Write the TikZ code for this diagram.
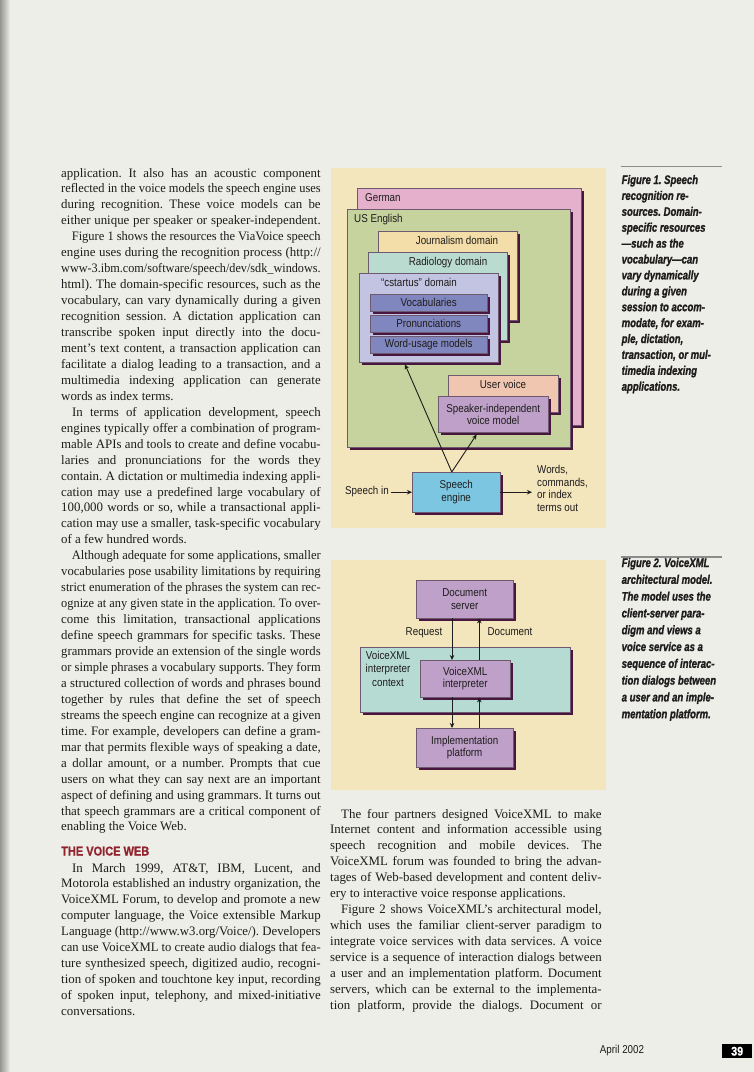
\documentclass[tikz,border=0pt]{standalone}
\usepackage{fontspec}
\usepackage{graphicx}
\setmainfont{Liberation Serif}
\newfontfamily\figfont[FakeStretch=0.86]{Liberation Sans}
\newfontfamily\capfont[FakeStretch=0.77,FakeBold=1.2]{Liberation Sans}
\newfontfamily\headfont[FakeStretch=0.86,FakeBold=0.8]{Liberation Sans}
\usetikzlibrary{arrows.meta,shadows,calc}
\frenchspacing

\definecolor{pagec}{RGB}{237,238,231}
\definecolor{edgec}{RGB}{150,150,145}
\definecolor{panelc}{RGB}{243,229,188}
\definecolor{germanc}{RGB}{228,176,204}
\definecolor{usc}{RGB}{198,211,158}
\definecolor{journc}{RGB}{243,221,168}
\definecolor{radioc}{RGB}{186,220,208}
\definecolor{cstc}{RGB}{194,196,226}
\definecolor{vocabc}{RGB}{128,134,190}
\definecolor{userc}{RGB}{241,198,176}
\definecolor{mauvec}{RGB}{190,160,200}
\definecolor{enginec}{RGB}{124,198,226}
\definecolor{ctxc}{RGB}{182,219,211}
\definecolor{shadowc}{RGB}{72,22,62}
\definecolor{textc}{RGB}{30,28,28}
\definecolor{linec}{RGB}{110,90,110}
\definecolor{headc}{RGB}{145,35,45}
\definecolor{rulec}{RGB}{140,140,140}

% justified and ragged text lines for the body columns
\newlength\colw
\newcommand\justln[1]{\setbox0=\hbox{#1}\ifdim\wd0>\colw
  \hbox{\resizebox{\colw}{\height}{\copy0}}\else\hbox to\colw{\unhbox0}\fi}
\newcommand\lastln[1]{\hbox{#1}}
\newcommand\pindent{\kern11pt}
\newcommand\bodyfont{\fontsize{12.9}{15.95}\selectfont}
\newcommand\figsize{\fontsize{11.4}{12.5}\selectfont}

\tikzset{
  fbox/.style={draw=linec, line width=0.4pt, inner sep=0pt, anchor=north west,
    text=textc, align=center, font=\figfont\figsize,
    drop shadow={shadow xshift=3pt, shadow yshift=-3pt, fill=shadowc, opacity=1}},
  lbl/.style={inner sep=0pt, text=textc, font=\figfont\figsize},
  arr/.style={draw=textc, line width=0.9pt, -{Stealth[length=5pt,width=4.5pt]}},
  body/.style={anchor=base west, inner sep=0pt, text=textc},
  capt/.style={anchor=base west, inner sep=0pt, text=textc}
}

\begin{document}
\begin{tikzpicture}[x=1pt,y=-1pt]
\useasboundingbox (0,0) rectangle (754,1072);
% page
\fill[pagec] (0,0) rectangle (754,1072);
\shade[left color=edgec, right color=pagec] (0,0) rectangle (10,1072);

% ---------- left column ----------
\node[body] (colA) at (61,177) {\bodyfont\setlength\colw{259.5pt}\vtop{\lineskiplimit=-100pt
\justln{application. It also has an acoustic component}
\justln{reflected in the voice models the speech engine uses}
\justln{during recognition. These voice models can be}
\justln{either unique per speaker or speaker-independent.}
\justln{\pindent Figure 1 shows the resources the ViaVoice speech}
\justln{engine uses during the recognition process (http://}
\justln{www-3.ibm.com/software/speech/dev/sdk\_windows.}
\justln{html). The domain-specific resources, such as the}
\justln{vocabulary, can vary dynamically during a given}
\justln{recognition session. A dictation application can}
\justln{transcribe spoken input directly into the docu-}
\justln{ment's text content, a transaction application can}
\justln{facilitate a dialog leading to a transaction, and a}
\justln{multimedia indexing application can generate}
\lastln{words as index terms.}
\justln{\pindent In terms of application development, speech}
\justln{engines typically offer a combination of program-}
\justln{mable APIs and tools to create and define vocabu-}
\justln{laries and pronunciations for the words they}
\justln{contain. A dictation or multimedia indexing appli-}
\justln{cation may use a predefined large vocabulary of}
\justln{100,000 words or so, while a transactional appli-}
\justln{cation may use a smaller, task-specific vocabulary}
\lastln{of a few hundred words.}
\justln{\pindent Although adequate for some applications, smaller}
\justln{vocabularies pose usability limitations by requiring}
\justln{strict enumeration of the phrases the system can rec-}
\justln{ognize at any given state in the application. To over-}
\justln{come this limitation, transactional applications}
\justln{define speech grammars for specific tasks. These}
\justln{grammars provide an extension of the single words}
\justln{or simple phrases a vocabulary supports. They form}
\justln{a structured collection of words and phrases bound}
\justln{together by rules that define the set of speech}
\justln{streams the speech engine can recognize at a given}
\justln{time. For example, developers can define a gram-}
\justln{mar that permits flexible ways of speaking a date,}
\justln{a dollar amount, or a number. Prompts that cue}
\justln{users on what they can say next are an important}
\justln{aspect of defining and using grammars. It turns out}
\justln{that speech grammars are a critical component of}
\lastln{enabling the Voice Web.}
}};

\node[body, text=headc, font=\headfont\bfseries\fontsize{12.8}{15}\selectfont] (head) at (61,855.5) {THE VOICE WEB};

\node[body] (colB) at (61,872) {\bodyfont\setlength\colw{259.5pt}\vtop{\lineskiplimit=-100pt
\justln{\pindent In March 1999, AT\&T, IBM, Lucent, and}
\justln{Motorola established an industry organization, the}
\justln{VoiceXML Forum, to develop and promote a new}
\justln{computer language, the Voice extensible Markup}
\justln{Language (http://www.w3.org/Voice/). Developers}
\justln{can use VoiceXML to create audio dialogs that fea-}
\justln{ture synthesized speech, digitized audio, recogni-}
\justln{tion of spoken and touchtone key input, recording}
\justln{of spoken input, telephony, and mixed-initiative}
\lastln{conversations.}
}};

% ---------- right column ----------
\node[body] (colC) at (330,818) {\bodyfont\setlength\colw{271.5pt}\vtop{\lineskiplimit=-100pt
\justln{\pindent The four partners designed VoiceXML to make}
\justln{Internet content and information accessible using}
\justln{speech recognition and mobile devices. The}
\justln{VoiceXML forum was founded to bring the advan-}
\justln{tages of Web-based development and content deliv-}
\lastln{ery to interactive voice response applications.}
\justln{\pindent Figure 2 shows VoiceXML's architectural model,}
\justln{which uses the familiar client-server paradigm to}
\justln{integrate voice services with data services. A voice}
\justln{service is a sequence of interaction dialogs between}
\justln{a user and an implementation platform. Document}
\justln{servers, which can be external to the implementa-}
\justln{tion platform, provide the dialogs. Document or}
}};

% ---------- Figure 1: speech recognition resources ----------
\fill[panelc] (331,168) rectangle (606,528);

\node[fbox, fill=germanc, minimum width=224pt, minimum height=237pt] (german) at (357,188) {};
\node[lbl, anchor=mid west] (germanl) at (365,199) {German};
\node[fbox, fill=usc, minimum width=223pt, minimum height=238pt] (us) at (347,209) {};
\node[lbl, anchor=mid west] (usl) at (354,220) {US English};

\node[fbox, fill=journc, minimum width=139pt, minimum height=89pt] (journ) at (378,231) {};
\node[lbl, anchor=mid] (journl) at (457,242) {Journalism domain};
\node[fbox, fill=radioc, minimum width=139pt, minimum height=88pt] (radio) at (368,252) {};
\node[lbl, anchor=mid] (radiol) at (448,263) {Radiology domain};
\node[fbox, fill=cstc, minimum width=139pt, minimum height=89pt] (cst) at (359,273) {};
\node[lbl, anchor=mid] (cstl) at (419,284) {“cstartus” domain};

\node[fbox, fill=vocabc, minimum width=117pt, minimum height=17pt] (vocab) at (370,294) {Vocabularies};
\node[fbox, fill=vocabc, minimum width=117pt, minimum height=17pt] (pron) at (370,315) {Pronunciations};
\node[fbox, fill=vocabc, minimum width=117pt, minimum height=17pt] (wordm) at (370,336) {Word-usage models};

\node[fbox, fill=userc, minimum width=110pt, minimum height=37pt] (user) at (448,375) {};
\node[lbl, anchor=mid] (userl) at (503,386) {User voice};
\node[fbox, fill=mauvec, minimum width=110pt, minimum height=36pt] (spk) at (438,396) {Speaker-independent\\voice model};

\node[fbox, fill=enginec, minimum width=88pt, minimum height=40pt] (eng) at (412,472) {Speech\\engine};

\node[lbl, anchor=mid east] (spin) at (389,492) {Speech in};
\draw[arr] ([xshift=2pt]spin.east |- eng.west) -- (eng.west);
\node[lbl, anchor=north west, align=left] (out) at (537,465.5) {Words,\\commands,\\or index\\terms out};
\draw[arr] (eng.east) -- ([xshift=-5pt]out.west |- eng.east);

\coordinate (engtop) at ($(eng.north west)!0.45!(eng.north east)$);
\draw[arr] (engtop) -- ($(cst.south west)!0.33!(cst.south east)+(0,2)$);
\draw[arr] (engtop) -- ($(spk.south west)!0.35!(spk.south east)+(0,2)$);

% caption 1
\draw[rulec, line width=1.2pt] (620.5,166.7) -- (721.5,166.7);
\node[capt] (cap1) at (621.5,184) {\capfont\bfseries\itshape\fontsize{12.4}{15.9}\selectfont\vtop{\lineskiplimit=-100pt
\hbox{Figure 1. Speech}
\hbox{recognition re-}
\hbox{sources. Domain-}
\hbox{specific resources}
\hbox{—such as the}
\hbox{vocabulary—can}
\hbox{vary dynamically}
\hbox{during a given}
\hbox{session to accom-}
\hbox{modate, for exam-}
\hbox{ple, dictation,}
\hbox{transaction, or mul-}
\hbox{timedia indexing}
\hbox{applications.}
}};

% ---------- Figure 2: VoiceXML architectural model ----------
\fill[panelc] (331,560) rectangle (606,790);

\node[fbox, fill=mauvec, minimum width=97pt, minimum height=38pt] (docsrv) at (416,580) {Document\\server};
\node[fbox, fill=ctxc, minimum width=210pt, minimum height=65pt] (ctx) at (360,647) {};
\node[lbl, align=center, anchor=center, font=\figfont\fontsize{11.4}{13.5}\selectfont] (ctxl) at (388,668.5) {VoiceXML\\interpreter\\context};
\node[fbox, fill=mauvec, minimum width=90pt, minimum height=37pt] (interp) at (420,660) {VoiceXML\\interpreter};
\node[fbox, fill=mauvec, minimum width=97pt, minimum height=39pt] (impl) at (416,728) {Implementation\\platform};

\node[lbl, anchor=mid] (req) at (424,633) {Request};
\node[lbl, anchor=mid] (docl) at (510,633) {Document};

\coordinate (d1) at ($(docsrv.south west)!0.37!(docsrv.south east)$);
\coordinate (d2) at ($(docsrv.south west)!0.65!(docsrv.south east)$);
\draw[arr] (d1) -- (d1 |- interp.north);
\draw[arr] (d2 |- interp.north) -- (d2);
\draw[arr] (d1 |- interp.south) -- (d1 |- impl.north);
\draw[arr] (d2 |- impl.north) -- (d2 |- interp.south);

% caption 2
\draw[rulec, line width=1.2pt] (620.5,557) -- (721.5,557);
\node[capt] (cap2) at (621.5,567) {\capfont\bfseries\itshape\fontsize{12.4}{16.8}\selectfont\vtop{\lineskiplimit=-100pt
\hbox{Figure 2. VoiceXML}
\hbox{architectural model.}
\hbox{The model uses the}
\hbox{client-server para-}
\hbox{digm and views a}
\hbox{voice service as a}
\hbox{sequence of interac-}
\hbox{tion dialogs between}
\hbox{a user and an imple-}
\hbox{mentation platform.}
}};

% ---------- footer ----------
\node[lbl, anchor=mid] (date) at (622,1051) {April 2002};
\node[fill=black, text=white, inner sep=0pt, minimum width=30pt, minimum height=14pt, anchor=north west,
  font=\headfont\bfseries\fontsize{12.5}{14}\selectfont] (pageno) at (722,1044) {39};
\end{tikzpicture}
\end{document}
